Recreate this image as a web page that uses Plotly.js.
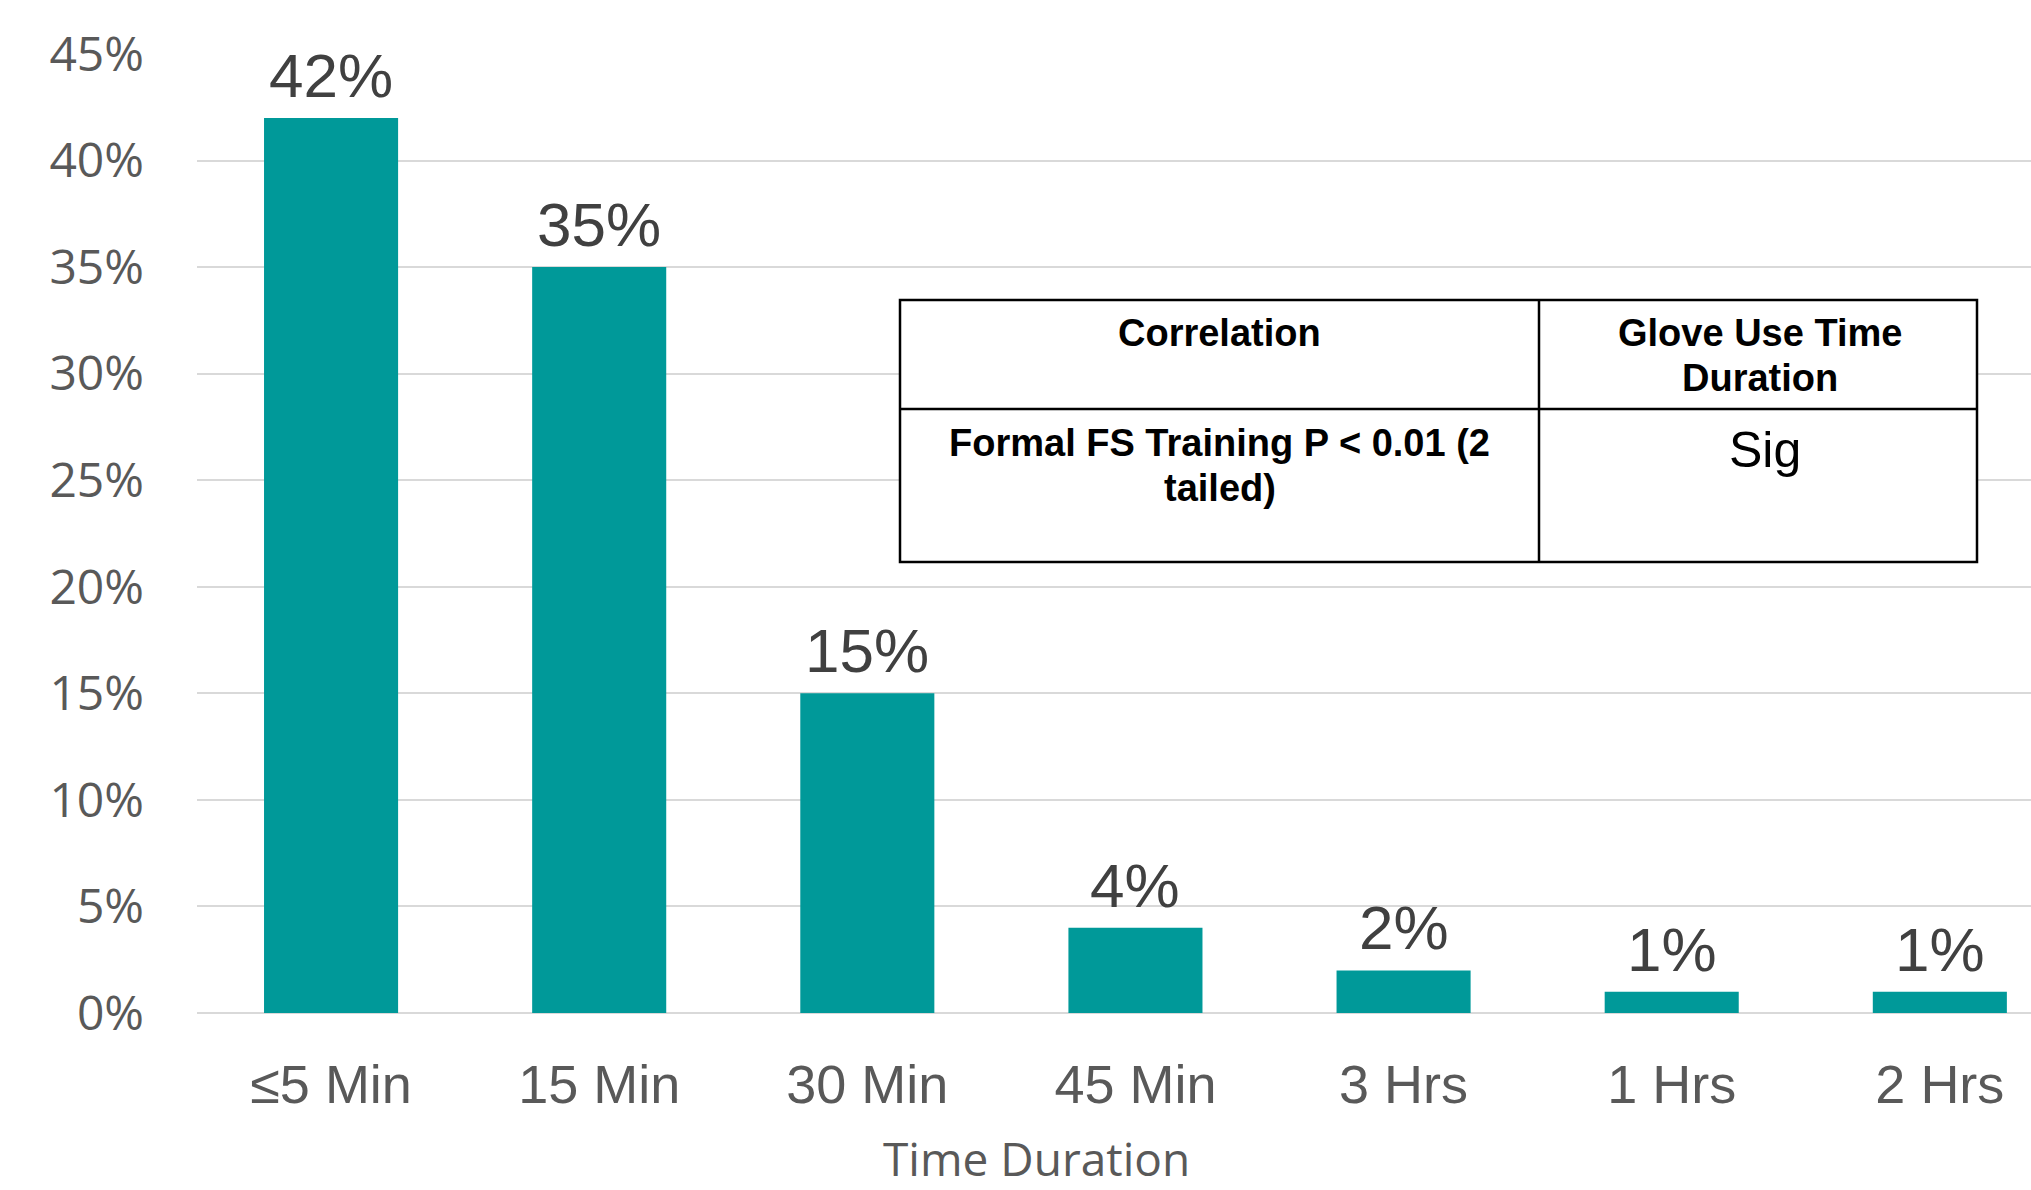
<!DOCTYPE html>
<html>
<head>
<meta charset="utf-8">
<script src="https://cdn.plot.ly/plotly-3.0.1.min.js"></script>
<style>html,body{margin:0;padding:0;background:#fff;}#chart{width:2031px;height:1190px;}</style>
</head>
<body>
<div id="chart"></div>
<script>
// ---- data ----
const categories = ["≤5 Min", "15 Min", "30 Min", "45 Min", "3 Hrs", "1 Hrs", "2 Hrs"];
const values = [42, 35, 15, 4, 2, 1, 1];
const valueLabels = ["42%", "35%", "15%", "4%", "2%", "1%", "1%"];
const yTickValues = [0, 5, 10, 15, 20, 25, 30, 35, 40, 45];
const yTickLabels = ["0%", "5%", "10%", "15%", "20%", "25%", "30%", "35%", "40%", "45%"];
const xAxisTitle = "Time Duration";
const tableHeader = ["Correlation", "Glove Use Time<br>Duration"];
const tableRow = ["Formal FS Training P < 0.01 (2<br>tailed)", "Sig"];

// ---- layout helpers (figure pixels -> paper coords) ----
const W = 2031, H = 1190;
const mL = 197, mR = 0, mT = 54, mB = 177;
const pw = W - mL - mR, ph = H - mT - mB;
const px = x => (x - mL) / pw;
const py = y => (H - mB - y) / ph;

const tblL = 900, tblR = 1977, tblC = 1539, tblT = 300, tblM = 409, tblB = 562;
const narrow = "Liberation Sans Narrow, Arial Narrow, Liberation Sans, Arial, sans-serif";
const lineGap = 45;

const trace = {
  type: "bar",
  x: categories,
  y: values,
  marker: {color: "#009999", line: {width: 0}},
  hoverinfo: "skip"
};

// value labels placed on the data scale above each bar
const valueAnnotations = categories.map((c, i) => ({
  text: valueLabels[i], x: c, y: values[i], xref: "x", yref: "y",
  xanchor: "center", yanchor: "bottom", yshift: 6, showarrow: false,
  font: {family: "Liberation Sans, Arial, sans-serif", size: 62, color: "#404040"}
}));

// table cell text, one annotation per line
function cellLines(text, cx, yTop, size, bold) {
  return text.split("<br>").map((line, i) => ({
    text: bold ? "<b>" + line + "</b>" : line,
    xref: "paper", yref: "paper",
    x: px(cx), y: py(yTop + i * lineGap),
    xanchor: "center", yanchor: "middle", showarrow: false,
    font: {family: narrow, size: size, color: "#000000"}
  }));
}

const annotations = [
  {text: xAxisTitle, xref: "paper", yref: "paper", x: px(1036), y: py(1158), xanchor: "center", yanchor: "middle",
   showarrow: false, font: {family: "Open Sans, Noto Sans, sans-serif", size: 46, color: "#595959"}}
].concat(
  valueAnnotations,
  cellLines(tableHeader[0], (tblL + tblC) / 2, 333, 38, true),
  cellLines(tableHeader[1], (tblC + tblR) / 2 + 2, 333, 38, true),
  cellLines(tableRow[0], (tblL + tblC) / 2, 443, 38, true),
  cellLines(tableRow[1], 1765, 450, 50, false)
);

const layout = {
  width: W, height: H,
  margin: {l: mL, r: mR, t: mT, b: mB, pad: 0},
  paper_bgcolor: "#ffffff",
  plot_bgcolor: "#ffffff",
  showlegend: false,
  bargap: 0.5,
  xaxis: {
    type: "category",
    range: [-0.5, 6.34],
    showgrid: false,
    showline: false,
    zeroline: false,
    ticks: "",
    ticklabelstandoff: 35,
    tickfont: {family: "Liberation Sans, Arial, sans-serif", size: 54, color: "#595959"},
    fixedrange: true
  },
  yaxis: {
    range: [0, 45],
    tickvals: yTickValues,
    ticktext: yTickLabels,
    showgrid: true,
    gridcolor: "#d9d9d9",
    gridwidth: 2,
    zeroline: true,
    zerolinecolor: "#d9d9d9",
    zerolinewidth: 2,
    showline: false,
    ticks: "",
    ticklabelstandoff: 52,
    tickfont: {family: "Open Sans, Noto Sans, sans-serif", size: 48, color: "#595959"},
    fixedrange: true
  },
  shapes: [
    {type: "rect", xref: "paper", yref: "paper", x0: px(tblL), x1: px(tblR), y0: py(tblB), y1: py(tblT),
     line: {color: "#000000", width: 2.5}, fillcolor: "#ffffff", layer: "above"},
    {type: "line", xref: "paper", yref: "paper", x0: px(tblC), x1: px(tblC), y0: py(tblB), y1: py(tblT),
     line: {color: "#000000", width: 2.5}, layer: "above"},
    {type: "line", xref: "paper", yref: "paper", x0: px(tblL), x1: px(tblR), y0: py(tblM), y1: py(tblM),
     line: {color: "#000000", width: 2.5}, layer: "above"}
  ],
  annotations: annotations
};

Plotly.newPlot("chart", [trace], layout, {displayModeBar: false, staticPlot: true});
</script>
</body>
</html>
